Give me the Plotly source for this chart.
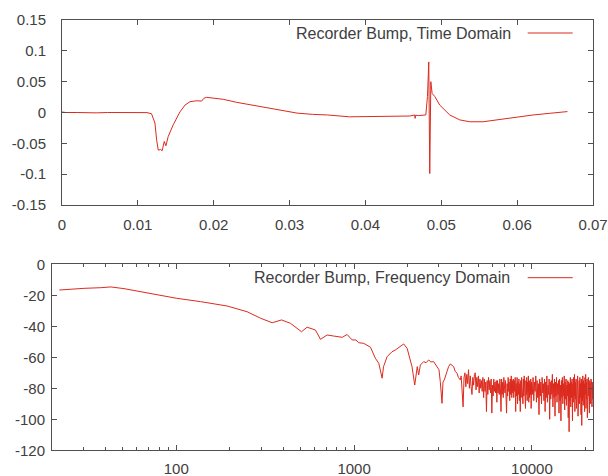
import plotly.graph_objects as go

# ---------------- Time domain data ----------------
time_s = [0.0, 0.0005, 0.002, 0.0035, 0.0045, 0.006, 0.008, 0.0095, 0.0105, 0.0112,
          0.0118, 0.01225, 0.01248, 0.01269, 0.0130, 0.0132, 0.01348, 0.0137, 0.0140,
          0.01466, 0.01555, 0.01621, 0.01687, 0.01775, 0.01841, 0.0187, 0.01906,
          0.01993, 0.02125, 0.02302, 0.025, 0.027, 0.029, 0.031, 0.033, 0.035, 0.0379,
          0.041, 0.0435, 0.04585, 0.0465, 0.04655, 0.0466, 0.047, 0.04796, 0.04818,
          0.04835, 0.04848, 0.04862, 0.04879, 0.04914, 0.0498, 0.05112, 0.05244,
          0.05375, 0.05551, 0.05771, 0.05991, 0.0621, 0.0643, 0.0665, 0.06663]
amplitude = [0.0008, 0.0, 0.0, -0.0008, -0.0006, 0.0, 0.0, -0.0006, -0.0005, -0.0002,
             -0.002, -0.017, -0.045, -0.061, -0.060, -0.062, -0.047, -0.054, -0.039,
             -0.020, 0.001, 0.012, 0.0175, 0.019, 0.0185, 0.023, 0.0246,
             0.023, 0.0214, 0.0165, 0.012, 0.007, 0.003, -0.001, -0.003, -0.004, -0.007,
             -0.0065, -0.006, -0.0057, -0.004, -0.0095, -0.0045, -0.005, -0.004, 0.026,
             0.082, -0.099, 0.050, 0.031, 0.026, 0.012, -0.004, -0.012,
             -0.015, -0.015, -0.011, -0.0068, -0.004, -0.0013, 0.0013, 0.0015]

# ---------------- Frequency domain data ----------------
freq_hz = [22, 24.4, 30.3, 37.6, 42.8, 50.8, 63, 78.2, 100, 137, 193, 250, 298, 346,
           391, 439, 506, 544, 606, 647, 705, 768, 802, 858, 913, 975, 1023, 1062,
           1133, 1236, 1316, 1377, 1437, 1464, 1533, 1634, 1705, 1820, 1900, 1987,
           2072, 2116, 2192, 2265, 2307, 2359, 2462, 2540, 2627, 2700, 2800, 2925,
           3000, 3052, 3121, 3160, 3214, 3327, 3400, 3474, 3550, 3628, 3700, 3790,
           3860, 3955,
           4000, 4050, 4100, 4150, 4200, 4250, 4300, 4350, 4400, 4450,
           4500, 4550, 4600, 4650, 4700, 4750, 4800, 4850, 4900, 4950,
           5000, 5050, 5100, 5150, 5200, 5250, 5300, 5350, 5400, 5450,
           5500, 5550, 5600, 5650, 5700, 5750, 5800, 5850, 5900, 5950,
           6000, 6050, 6100, 6150, 6200, 6250, 6300, 6350, 6400, 6450,
           6500, 6550, 6600, 6650, 6700, 6750, 6800, 6850, 6900, 6950,
           7000, 7050, 7100, 7150, 7200, 7250, 7300, 7350, 7400, 7450,
           7500, 7550, 7600, 7650, 7700, 7750, 7800, 7850, 7900, 7950,
           8000, 8050, 8100, 8150, 8200, 8250, 8300, 8350, 8400, 8450,
           8500, 8550, 8600, 8650, 8700, 8750, 8800, 8850, 8900, 8950,
           9000, 9050, 9100, 9150, 9200, 9250, 9300, 9350, 9400, 9450,
           9500, 9550, 9600, 9650, 9700, 9750, 9800, 9850, 9900, 9950,
           10050,
           10150, 10240, 10330, 10420, 10510, 10600, 10690, 10780, 10870, 10960,
           11050, 11140, 11230, 11320, 11410, 11500, 11590, 11680, 11770, 11860,
           11950, 12040, 12130, 12220, 12310, 12400, 12490, 12580, 12670, 12760,
           12850, 12940, 13030, 13120, 13210, 13300, 13390, 13480, 13570, 13660,
           13750, 13840, 13930, 14020, 14110, 14200, 14290, 14380, 14470, 14560,
           14650, 14740, 14830, 14920, 15010, 15100, 15190, 15280, 15370, 15460,
           15550, 15640, 15730, 15820, 15910, 16000, 16090, 16180, 16270, 16360,
           16450, 16540, 16630, 16720, 16810, 16900, 16990, 17080, 17170, 17260,
           17350, 17440, 17530, 17620, 17710, 17800, 17890, 17980, 18070, 18160,
           18250, 18340, 18430, 18520, 18610, 18700, 18790, 18880, 18970, 19060,
           19150, 19240, 19330, 19420, 19510, 19600, 19690, 19780, 19870, 19960,
           20050, 20140, 20230, 20320, 20410, 20500, 20590, 20680, 20770, 20860,
           20950, 21040, 21130, 21220, 21310, 21400, 21490, 21580, 21670, 21760,
           21850, 21940, 22050]
level_db = [-16.6, -16.1, -15.5, -15.1, -14.6, -15.7, -17.7, -19.8, -21.9, -24.1, -26.9,
            -30.6, -34.8, -37.7, -35.9, -38.1, -43.5, -40.6, -42.4, -48.4, -45.6, -46.3,
            -46.7, -47.1, -45.3, -48.8, -48.8, -50.6, -51.0, -53.5, -60.6, -63.9, -73.5,
            -66.0, -59.6, -56.4, -55.3, -52.7, -51.4, -54.2, -61.7, -66.0, -77.9, -66.0,
            -71.4, -65.0, -62.8, -63.5, -61.7, -63.0, -62.8, -66.0, -68.0, -75.6, -89.7,
            -76.0, -74.6, -69.3, -66.0, -64.3, -65.0, -66.0, -69.0, -70.3, -73.0, -74.6,
            -72, -80, -92, -73, -70, -79, -71, -77, -68, -80,
            -72, -79, -84, -73, -78, -71, -70, -81, -73, -79,
            -72, -83, -74, -80, -75, -82, -73, -86, -74, -82,
            -76, -95, -75, -84, -73, -81, -75, -83, -74, -96,
            -78, -85, -74, -82, -76, -83, -75, -89, -75, -83,
            -77, -84, -74, -80, -95, -74, -84, -76, -86, -73,
            -78, -83, -75, -84, -96, -77, -85, -73, -82, -76,
            -88, -74, -84, -72, -86, -75, -83, -74, -86, -75,
            -82, -73, -95, -77, -85, -73, -90, -76, -84, -74,
            -88, -77, -95, -75, -86, -73, -83, -78, -90, -74,
            -85, -72, -87, -76, -93, -75, -84, -73, -88, -76,
            -82, -72, -89, -75, -86, -77, -84, -74, -93, -76,
            -84,
            -73, -88, -76, -82, -72, -89, -75, -86, -77, -97,
            -74, -85, -76, -90, -73, -83, -77, -88, -74, -95,
            -76, -86, -72, -89, -78, -84, -74, -100, -76, -87,
            -75, -84, -71, -92, -77, -86, -74, -98, -76, -85,
            -73, -89, -77, -84, -75, -96, -74, -88, -78, -101,
            -75, -86, -73, -90, -77, -85, -72, -94, -76, -87,
            -74, -91, -78, -85, -75, -99, -76, -108, -77, -88,
            -73, -92, -76, -86, -74, -101, -77, -89, -73, -85,
            -71, -95, -76, -87, -74, -93, -78, -84, -72, -98,
            -77, -88, -75, -90, -73, -86, -77, -97, -74, -104,
            -76, -88, -72, -91, -75, -86, -77, -95, -73, -84,
            -71, -93, -76, -87, -74, -99, -78, -89, -73, -85,
            -76, -96, -75, -88, -77, -90, -74, -86, -78, -92,
            -76, -87, -82]

top_x_ticks = [0, 0.01, 0.02, 0.03, 0.04, 0.05, 0.06, 0.07]
top_x_text = ["0", "0.01", "0.02", "0.03", "0.04", "0.05", "0.06", "0.07"]
top_y_ticks = [-0.15, -0.1, -0.05, 0, 0.05, 0.1, 0.15]
top_y_text = ["-0.15", "-0.1", "-0.05", "0", "0.05", "0.1", "0.15"]
bot_x_ticks = [100, 1000, 10000]
bot_x_text = ["100", "1000", "10000"]
bot_y_ticks = [-120, -100, -80, -60, -40, -20, 0]
bot_y_text = ["-120", "-100", "-80", "-60", "-40", "-20", "0"]

label_time = "Recorder Bump, Time Domain"
label_freq = "Recorder Bump, Frequency Domain"

LINE = "#dc2a1e"
AXC = "#505050"
TXT = "#404040"
FONT = "Liberation Sans, Arial, sans-serif"

fig = go.Figure()
fig.add_trace(go.Scatter(x=time_s, y=amplitude, mode="lines",
                         line=dict(color=LINE, width=1), xaxis="x", yaxis="y",
                         showlegend=False))
fig.add_trace(go.Scatter(x=freq_hz, y=level_db, mode="lines",
                         line=dict(color=LINE, width=1), xaxis="x2", yaxis="y2",
                         showlegend=False))

common = dict(showline=True, linecolor=AXC, linewidth=1, mirror="ticks",
              ticks="inside", ticklen=5, tickcolor=AXC, showgrid=False,
              zeroline=False, automargin=False,
              tickfont=dict(family=FONT, size=15, color=TXT))

fig.update_layout(
    width=608, height=476,
    margin=dict(l=0, r=0, t=0, b=0, autoexpand=False),
    paper_bgcolor="white", plot_bgcolor="white",
    font=dict(family=FONT, color=TXT),
    xaxis=dict(domain=[62/608, 593/608], range=[0, 0.07], tickvals=top_x_ticks,
               ticktext=top_x_text, anchor="y", ticklabelstandoff=6, **common),
    yaxis=dict(domain=[1-205/476, 1-20/476], range=[-0.15, 0.15], tickvals=top_y_ticks,
               ticktext=top_y_text, anchor="x", ticklabelstandoff=12, **common),
    xaxis2=dict(domain=[52/608, 593/608], type="log", range=[1.30103, 4.34341],
                tickvals=bot_x_ticks, ticktext=bot_x_text, anchor="y2",
                ticklabelstandoff=5,
                minor=dict(ticks="inside", ticklen=3, tickcolor=AXC, dtick="D1",
                           showgrid=False),
                **common),
    yaxis2=dict(domain=[1-450.3/476, 1-264.3/476], range=[-120, 0], tickvals=bot_y_ticks,
                ticktext=bot_y_text, anchor="x2", ticklabelstandoff=3, **common),
)

fig.add_annotation(text=label_time, xref="x domain", yref="y domain", x=0.8493, y=0.9297,
                   xanchor="right", yanchor="middle", showarrow=False,
                   font=dict(family=FONT, size=16, color=TXT))
fig.add_shape(type="line", xref="x domain", yref="y domain", x0=0.877, x1=0.9618,
              y0=0.9297, y1=0.9297, line=dict(color=LINE, width=1))
fig.add_annotation(text=label_freq, xref="x2 domain", yref="y2 domain", x=0.8508, y=0.928,
                   xanchor="right", yanchor="middle", showarrow=False,
                   font=dict(family=FONT, size=16, color=TXT))
fig.add_shape(type="line", xref="x2 domain", yref="y2 domain", x0=0.8793, x1=0.9625,
              y0=0.928, y1=0.928, line=dict(color=LINE, width=1))

fig.write_html("out.html", config={"displayModeBar": False},
               post_script="document.body.style.margin='0';document.body.style.overflow='hidden';")
